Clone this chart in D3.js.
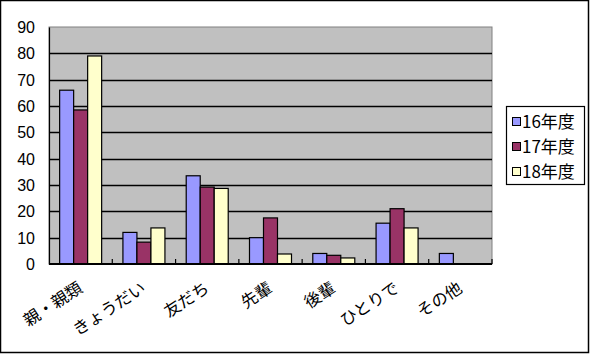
<html>
<head>
<meta charset="utf-8">
<script src="https://d3js.org/d3.v7.min.js"></script>
<style>
  body { margin: 0; background: #fff; }
  text { font-family: "MS PGothic", "Noto Sans CJK JP", sans-serif; fill: #000; }
</style>
</head>
<body>
<svg id="chart" width="590" height="354"></svg>
<script>
const categories = ["親・親類", "きょうだい", "友だち", "先輩", "後輩", "ひとりで", "その他"];
const seriesNames = ["16年度", "17年度", "18年度"];
const values16 = [66, 12, 33.5, 10, 4, 15.5, 4];
const values17 = [58.5, 8.3, 29.2, 17.5, 3.3, 21, 0];
const values18 = [79, 13.7, 28.7, 3.8, 2.3, 13.7, 0];
const yTicks = [0, 10, 20, 30, 40, 50, 60, 70, 80, 90];
const colors = ["#9999FF", "#993366", "#FFFFCC"];

const rows = categories.map((c, i) => ({
  cat: c,
  vals: [values16[i], values17[i], values18[i]]
}));

const svg = d3.select("#chart");
const plot = { left: 49, right: 492, top: 27, bottom: 264 };

// outer frame
svg.append("rect")
  .attr("x", 0.5).attr("y", 0.5)
  .attr("width", 588).attr("height", 352)
  .attr("fill", "#fff").attr("stroke", "#000").attr("stroke-width", 1.5);

const x0 = d3.scaleBand().domain(categories).range([plot.left, plot.right]).padding(0);
const x1 = d3.scaleBand().domain(seriesNames).range([0, x0.bandwidth()]).paddingInner(0).paddingOuter(0.76);
const y = d3.scaleLinear().domain([0, 90]).range([plot.bottom, plot.top]);

// plot background
svg.append("rect")
  .attr("x", plot.left).attr("y", plot.top)
  .attr("width", plot.right - plot.left).attr("height", plot.bottom - plot.top)
  .attr("fill", "#C0C0C0").attr("stroke", "#808080").attr("stroke-width", 1);

// gridlines
svg.append("g").selectAll("line")
  .data(yTicks.filter(t => t > 0 && t < 90))
  .join("line")
  .attr("x1", plot.left).attr("x2", plot.right)
  .attr("y1", d => Math.round(y(d)) + 0.5).attr("y2", d => Math.round(y(d)) + 0.5)
  .attr("stroke", "#000").attr("stroke-width", 1.5);

// bars
const groups = svg.append("g").selectAll("g")
  .data(rows)
  .join("g")
  .attr("transform", d => `translate(${x0(d.cat)},0)`);

groups.selectAll("rect")
  .data(d => d.vals.map((v, i) => ({ key: seriesNames[i], v: v, i: i })).filter(e => e.v > 0))
  .join("rect")
  .attr("x", d => x1(d.key))
  .attr("y", d => y(d.v))
  .attr("width", x1.bandwidth())
  .attr("height", d => y(0) - y(d.v))
  .attr("fill", d => colors[d.i])
  .attr("stroke", "#000").attr("stroke-width", 1.2);

// y axis
const leftAxis = d3.axisLeft(y).tickValues(yTicks).tickSize(0).tickPadding(14);
const ya = svg.append("g")
  .attr("transform", `translate(${plot.left},0)`)
  .call(leftAxis);
ya.select(".domain").attr("stroke", "#000").attr("stroke-width", 1.2);
ya.selectAll("text")
  .style("font-family", "'Liberation Sans', Arial, sans-serif")
  .attr("font-size", 16)
  .attr("dy", "0.35em");

// x axis line and inside tick marks
svg.append("line")
  .attr("x1", plot.left).attr("x2", plot.right)
  .attr("y1", plot.bottom).attr("y2", plot.bottom)
  .attr("stroke", "#000").attr("stroke-width", 2);
svg.append("g").selectAll("line")
  .data(categories.slice(1).concat(["__end"]))
  .join("line")
  .attr("x1", d => d === "__end" ? plot.right : x0(d))
  .attr("x2", d => d === "__end" ? plot.right : x0(d))
  .attr("y1", plot.bottom).attr("y2", plot.bottom - 5)
  .attr("stroke", "#000").attr("stroke-width", 1.2);

// category labels
svg.append("g").selectAll("text")
  .data(categories)
  .join("text")
  .attr("transform", d => `translate(${x0(d) + x0.bandwidth() / 2 + 3},${plot.bottom + 27}) rotate(-33)`)
  .attr("text-anchor", "end")
  .attr("font-size", 16.5)
  .text(d => d);

// legend
const legend = svg.append("g");
legend.append("rect")
  .attr("x", 506.5).attr("y", 106.5)
  .attr("width", 78).attr("height", 78)
  .attr("fill", "#fff").attr("stroke", "#000").attr("stroke-width", 1.2);
const items = legend.selectAll("g.item")
  .data(seriesNames)
  .join("g")
  .attr("class", "item")
  .attr("transform", (d, i) => `translate(512,${122 + i * 25})`);
items.append("rect")
  .attr("x", 0.5).attr("y", -4.5)
  .attr("width", 8).attr("height", 8)
  .attr("fill", (d, i) => colors[i])
  .attr("stroke", "#000").attr("stroke-width", 1);
items.append("text")
  .attr("x", 10).attr("dy", "0.35em")
  .attr("font-size", 17)
  .text(d => d);
</script>
</body>
</html>
